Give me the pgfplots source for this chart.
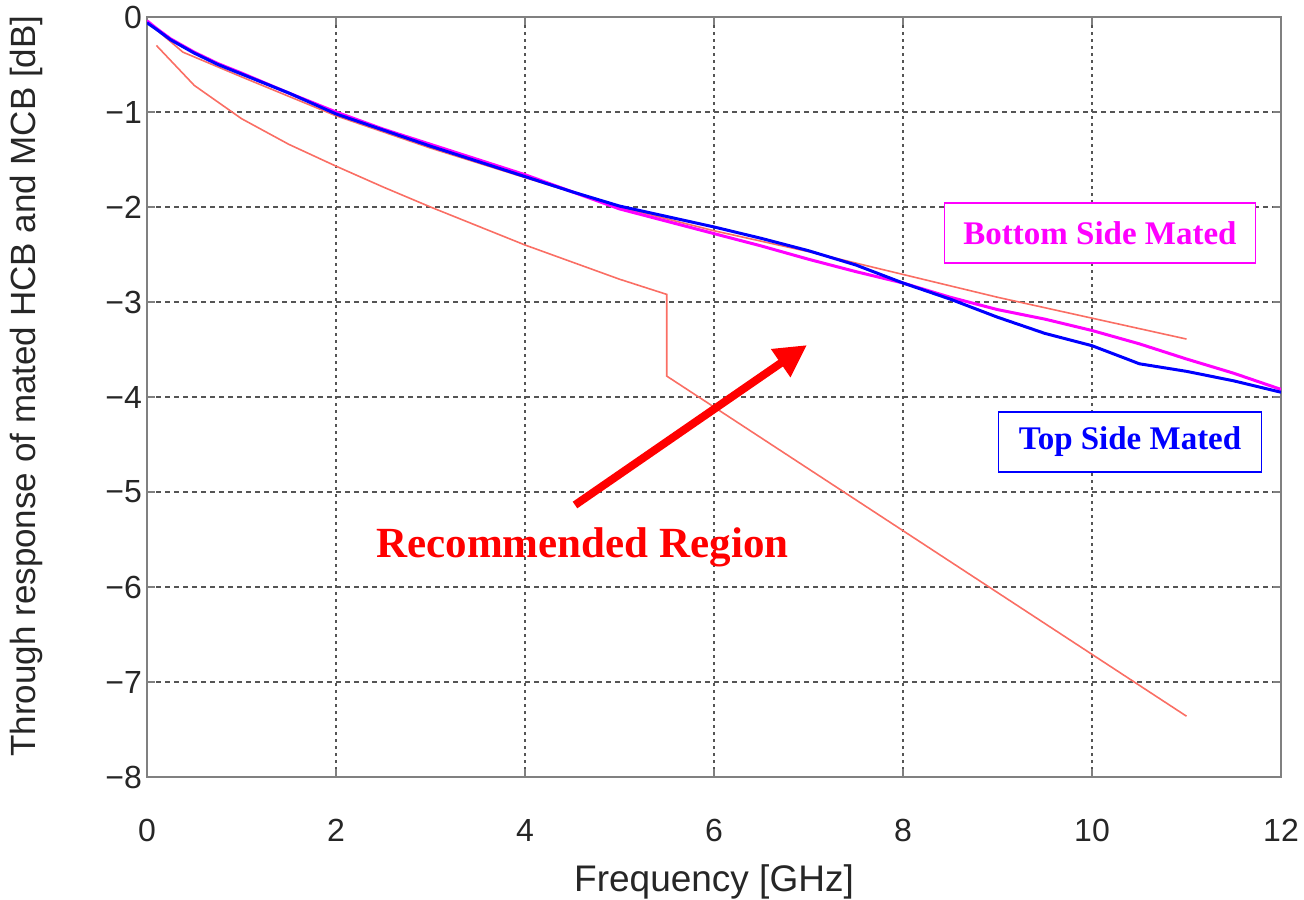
\documentclass[border=0pt]{standalone}
\usepackage{fontspec}
\setmainfont{Liberation Sans}
\newfontfamily\serifb{Liberation Serif}
\usepackage{pgfplots}
\pgfplotsset{compat=1.18}
\usetikzlibrary{arrows.meta}
\definecolor{limred}{RGB}{250,110,100}
\definecolor{mag}{RGB}{255,0,255}
\definecolor{blu}{RGB}{0,0,255}
\definecolor{gridc}{RGB}{85,85,85}
\begin{document}
\begin{tikzpicture}
\useasboundingbox (-73.5pt,-61pt) rectangle (578.5pt,388.5pt);
\begin{axis}[
  scale only axis, width=567pt, height=380pt,
  xmin=0, xmax=12, ymin=-8, ymax=0,
  xtick={0,2,...,12}, ytick={-8,-7,...,0},
  yticklabels={−8,−7,−6,−5,−4,−3,−2,−1,0},
  /pgf/number format/assume math mode=true,
  ticklabel style={font=\fontsize{16}{19}\selectfont, text=black!85},
  xticklabel style={anchor=base, yshift=-32pt},
  yticklabel style={xshift=1pt},
  grid=major,
  major x grid style={gridc, line width=0.8pt, dash pattern=on 1.5pt off 2pt},
  major y grid style={gridc, line width=0.8pt, dash pattern=on 2.5pt off 2pt},
  axis line style={draw=gray, line width=1pt},
  tick style={gray, line width=0.6pt},
  major tick length=4pt,
  tick align=inside,
  xlabel={Frequency [GHz]},
  ylabel={Through response of mated HCB and MCB [dB]},
  every axis x label/.style={at={(axis description cs:0.5,0)}, anchor=center, yshift=-52.5pt,
     font=\fontsize{18.5}{21}\selectfont, text=black!85},
  every axis y label/.style={at={(axis description cs:0,0.5)}, xshift=-60.5pt, yshift=5.5pt, rotate=90, anchor=center,
     font=\fontsize{17.5}{20}\selectfont, text=black!85},
]
% lower limit line
\addplot[limred, line width=0.8pt] coordinates {
(0.1,-0.30) (0.5,-0.72) (1,-1.07) (1.5,-1.34) (2,-1.57) (2.5,-1.79) (3,-2.00)
(3.5,-2.20) (4,-2.40) (4.5,-2.58) (5,-2.76) (5.5,-2.92) (5.5,-3.78) (11,-7.36)};
% upper limit line
\addplot[limred, line width=0.8pt] coordinates {
(0.085,-0.12) (0.38,-0.37) (1,-0.63) (2,-1.04) (3,-1.38) (4,-1.69) (5,-2.00)
(6,-2.25) (7,-2.47) (8,-2.71) (9,-2.95) (10,-3.17) (11,-3.39)};
% Bottom Side Mated
\addplot[mag, line width=1.5pt] coordinates {
(0,-0.04) (0.1,-0.12) (0.25,-0.23) (0.5,-0.37) (0.75,-0.49) (1,-0.59) (1.5,-0.80)
(2,-1.00) (2.5,-1.18) (3,-1.34) (3.5,-1.50) (4,-1.66) (4.5,-1.84) (5,-2.02)
(5.5,-2.15) (6,-2.28) (6.5,-2.41) (7,-2.55) (7.5,-2.68) (8,-2.80) (8.5,-2.95)
(9,-3.08) (9.5,-3.18) (10,-3.30) (10.5,-3.44) (11,-3.60) (11.5,-3.75) (12,-3.92)};
% Top Side Mated
\addplot[blu, line width=1.5pt] coordinates {
(0,-0.06) (0.1,-0.13) (0.25,-0.24) (0.5,-0.38) (0.75,-0.50) (1,-0.60) (1.5,-0.80)
(2,-1.02) (2.5,-1.19) (3,-1.36) (3.5,-1.52) (4,-1.68) (4.5,-1.84) (5,-1.99)
(5.5,-2.10) (6,-2.21) (6.5,-2.33) (7,-2.46) (7.5,-2.61) (8,-2.80) (8.5,-2.97)
(9,-3.16) (9.5,-3.33) (10,-3.46) (10.37,-3.60) (10.5,-3.65) (11,-3.73) (11.5,-3.83) (12,-3.95)};
% annotations
\node[draw=mag, fill=white, line width=0.6pt, text=mag, font=\serifb\bfseries\fontsize{16.5}{19}\selectfont,
  minimum height=30pt, inner xsep=9.5pt] at (axis cs:10.085,-2.274) {Bottom Side Mated};
\node[draw=blu, fill=white, line width=0.6pt, text=blu, font=\serifb\bfseries\fontsize{16.5}{19}\selectfont,
  minimum height=30pt, inner xsep=10pt] at (axis cs:10.402,-4.474) {Top Side Mated};
\node[text=red, font=\serifb\bfseries\fontsize{21.5}{24}\selectfont, anchor=base]
  at (axis cs:4.608,-5.69) {Recommended Region};
\draw[red, line width=4pt, -{Triangle[length=16pt,width=16pt]}] (axis cs:4.529,-5.137) -- (axis cs:6.984,-3.453);
\end{axis}
\end{tikzpicture}
\end{document}
